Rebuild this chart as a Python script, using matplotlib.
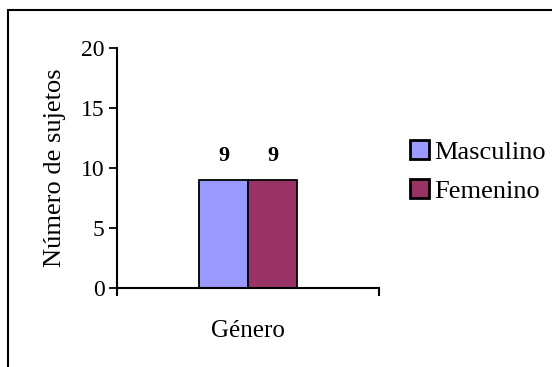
import matplotlib
matplotlib.use("Agg")
import matplotlib.pyplot as plt
from matplotlib.patches import Rectangle

plt.rcParams['font.family'] = ['Liberation Serif', 'DejaVu Serif']

categories = ['Género']
series = ['Masculino', 'Femenino']
values = [9, 9]
colors = ['#9999FF', '#993366']

fig = plt.figure(figsize=(5.52, 3.67), dpi=100)
# outer chart border (cut off on right/bottom like the original)
fig.patches.append(Rectangle((8 / 552, -0.05), 1.2, 1 - 10 / 367 + 0.05,
                             transform=fig.transFigure, fill=False,
                             edgecolor='black', linewidth=1.5))

ax = fig.add_axes([117 / 552, 1 - 288 / 367, 262 / 552, 240 / 367])
w = 0.187
for i, (name, v) in enumerate(zip(series, values)):
    x = (i - 0.5) * w
    ax.bar(x, v, width=w, color=colors[i], edgecolor='black', linewidth=1.3,
           label=name)
    ax.text(x, v + 2.0, str(v), ha='center', va='center',
            fontsize=16, fontweight='bold')

ax.set_xlim(-0.5, 0.5)
ax.set_ylim(0, 20)
ax.set_yticks([0, 5, 10, 15, 20])
ax.set_xticks([-0.5, 0.5])
ax.set_xticklabels(['', ''])
ax.set_xticks([0], minor=True)
ax.set_xticklabels(categories, minor=True, fontsize=18)
ax.tick_params(axis='x', which='minor', length=0, pad=23)
ax.tick_params(axis='x', which='major', direction='out', length=6, width=1.5)
ax.tick_params(axis='y', direction='out', length=6, width=1.3, labelsize=17, pad=3)
for s in ['top', 'right']:
    ax.spines[s].set_visible(False)
ax.spines['left'].set_linewidth(1.5)
ax.spines['bottom'].set_linewidth(1.5)
ax.set_ylabel('Número de sujetos', fontsize=19, labelpad=11)

leg = ax.legend(loc='upper left', bbox_to_anchor=(1.079, 0.66), frameon=False,
                fontsize=19, handlelength=0.7, handleheight=0.7,
                handletextpad=0.2, labelspacing=0.6, borderaxespad=0)
for h in leg.legend_handles:
    h.set_linewidth(2)

fig.savefig('out.png', dpi=100)
